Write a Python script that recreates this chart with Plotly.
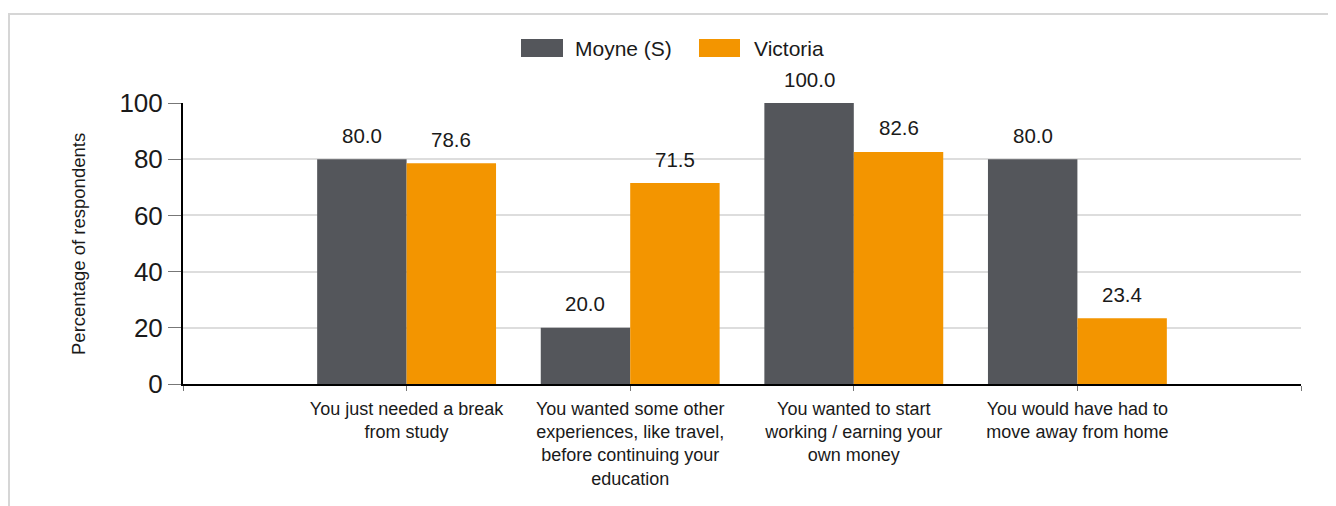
import plotly.graph_objects as go

categories = [
    "You just needed a break<br>from study",
    "You wanted some other<br>experiences, like travel,<br>before continuing your<br>education",
    "You wanted to start<br>working / earning your<br>own money",
    "You would have had to<br>move away from home",
]
series_names = ["Moyne (S)", "Victoria"]
moyne = [80.0, 20.0, 100.0, 80.0]
victoria = [78.6, 71.5, 82.6, 23.4]
y_ticks = [0, 20, 40, 60, 80, 100]
colors = ["#54565b", "#f39500"]

# page has an 8px body margin; positions below are page pixels
OFF = 8
W, H = 1336, 506
L, R, T, B = 183 - OFF, 1336 - (1301 - OFF), 103 - OFF, 506 - (384 - OFF)
PW = W - L - R
PH = H - T - B


def px_x(px):
    return (px - OFF - L) / PW


def px_y(py):
    return (H - B - (py - OFF)) / PH


FONT = "Liberation Sans, Arial, sans-serif"
TXT = "#1a1a1a"

xpos = [i + 1 for i in range(len(categories))]

fig = go.Figure()
for name, vals, col in zip(series_names, [moyne, victoria], colors):
    fig.add_trace(go.Bar(
        x=xpos, y=vals, name=name, marker=dict(color=col, line=dict(width=0)),
        showlegend=False, hoverinfo="x+y", cliponaxis=False,
    ))

annotations = []
offsets = [-0.2, 0.2]
for vals, off in zip([moyne, victoria], offsets):
    for xv, v in zip(xpos, vals):
        annotations.append(dict(
            x=xv + off, y=v, xref="x", yref="y", text=f"{v:.1f}",
            showarrow=False, yanchor="middle", yshift=24,
            font=dict(family=FONT, size=20.5, color=TXT),
        ))

# y-axis title
annotations.append(dict(
    x=px_x(78), y=px_y(244), xref="paper", yref="paper",
    text="Percentage of respondents", textangle=-90, showarrow=False,
    xanchor="center", yanchor="middle",
    font=dict(family=FONT, size=18.5, color=TXT),
))

shapes = []
# outer frame
shapes.append(dict(
    type="rect", xref="paper", yref="paper",
    x0=px_x(9), x1=px_x(1360), y0=px_y(540), y1=px_y(14),
    line=dict(color="#d6d6d6", width=2), fillcolor="rgba(0,0,0,0)", layer="below",
))

# custom legend
legend_items = [(521, 563, 573), (699, 740, 752)]
for (x0, x1, tx), name, col in zip(legend_items, series_names, colors):
    shapes.append(dict(
        type="rect", xref="paper", yref="paper",
        x0=px_x(x0), x1=px_x(x1), y0=px_y(57), y1=px_y(39),
        line=dict(width=0), fillcolor=col,
    ))
    annotations.append(dict(
        x=px_x(tx), y=px_y(48), xref="paper", yref="paper", text=name,
        showarrow=False, xanchor="left", yanchor="middle",
        font=dict(family=FONT, size=21, color=TXT),
    ))

fig.update_layout(
    width=W, height=H,
    margin=dict(l=L, r=R, t=T, b=B, autoexpand=False),
    paper_bgcolor="white", plot_bgcolor="white",
    barmode="group", bargap=0.2, bargroupgap=0,
    font=dict(family=FONT, color=TXT),
    showlegend=False,
    annotations=annotations, shapes=shapes,
    xaxis=dict(
        range=[0, len(categories) + 1],
        tickmode="array",
        tickvals=[0] + xpos + [len(categories) + 1],
        ticktext=[""] + categories + [""],
        ticks="outside", ticklen=5, tickcolor="#777777", tickwidth=1,
        ticklabelstandoff=2,
        showline=True, linecolor="black", linewidth=2,
        showgrid=False, zeroline=False,
        tickfont=dict(family=FONT, size=18, color=TXT),
        fixedrange=True,
    ),
    yaxis=dict(
        range=[0, 100],
        tickmode="array", tickvals=y_ticks,
        ticks="outside", ticklen=13, tickcolor="#777777", tickwidth=1,
        showline=True, linecolor="black", linewidth=2,
        showgrid=True, gridcolor="#dddddd", gridwidth=2,
        zeroline=False,
        tickfont=dict(family=FONT, size=26, color=TXT),
        fixedrange=True,
    ),
)

fig.write_html("out.html")
